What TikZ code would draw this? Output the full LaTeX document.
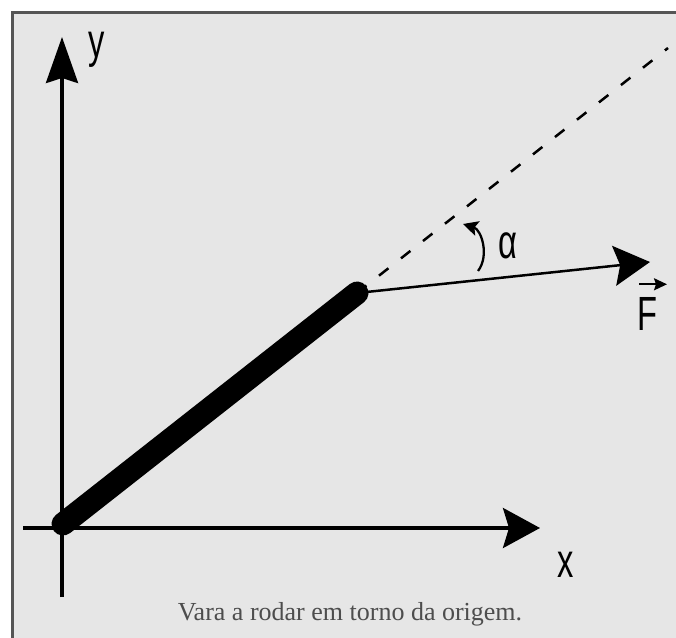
\documentclass[tikz,border=0pt]{standalone}
\usepackage{fontspec}
\setmainfont{Liberation Serif}
\newfontfamily\lblfont[FakeStretch=0.68]{Liberation Sans}
\usetikzlibrary{arrows.meta,calc}

\definecolor{panelgray}{HTML}{E6E6E6}
\definecolor{framegray}{HTML}{555555}
\definecolor{captiongray}{HTML}{4D4D4D}

\begin{document}
\begin{tikzpicture}[
    x=1pt, y=1pt,
    axis/.style={line width=3.5pt},
    yaxis/.style={axis, -{Stealth[length=46pt,width=32pt,inset=5pt]}},
    xaxis/.style={axis, -{Stealth[length=37pt,width=40pt,inset=6pt]}},
    force/.style={line width=2.5pt, -{Stealth[length=36pt,width=40pt,inset=6pt]}},
    rod/.style={line width=23pt, line cap=round},
    guide/.style={line width=2.5pt, dash pattern=on 12pt off 16pt},
    turn/.style={line width=2.3pt, -{Stealth[length=15pt,width=15pt,inset=3pt]}},
    vecarrow/.style={line width=2pt, -{Stealth[length=13pt,width=12pt,inset=2pt]}},
    axislbl/.style={font=\lblfont\fontsize{48}{48}\selectfont, inner sep=0pt},
    caption/.style={font=\fontsize{26}{26}\selectfont, text=captiongray, inner sep=0pt}
]
% panel
\fill[white] (0,0) rectangle (676,637);
\clip (0,0) rectangle (676,637);
\draw[framegray, line width=3pt, fill=panelgray] (12,-20) rectangle (700,624);

% axes
\coordinate (origin) at (62,109);
\coordinate (ybottom) at (62,40);
\coordinate (ytop) at (62,600);
\coordinate (xleft) at (23,109);
\coordinate (xright) at (540,109);
\draw[yaxis] (ybottom) -- (ytop);
\draw[xaxis] (xleft) -- (xright);
\node[axislbl] (ylbl) at (97,587) {y};
\node[axislbl] (xlbl) at (566,72) {x};

% rod and force
\coordinate (rodbase) at (63,113);
\coordinate (rodend) at (357,344);
\coordinate (lineend) at (668,589);
\coordinate (ftip) at (650,375);
\draw[guide] (rodend) -- (lineend);
\draw[rod] (rodbase) -- (rodend);
\draw[force] (rodend) -- (ftip);
\node[axislbl] (flbl) at (647,323) {F};
\draw[vecarrow] ([shift={(-8,13)}]flbl.north) -- ([shift={(20,13)}]flbl.north);

% angle
\coordinate (arcstart) at (478,366);
\coordinate (arcend) at (463,413);
\draw[turn] (arcstart) to[bend right=55] (arcend);
\node[axislbl] (alpha) at (508,391) {α};

\node[caption] (cap) at (350,23) {Vara a rodar em torno da origem.};
\end{tikzpicture}
\end{document}
